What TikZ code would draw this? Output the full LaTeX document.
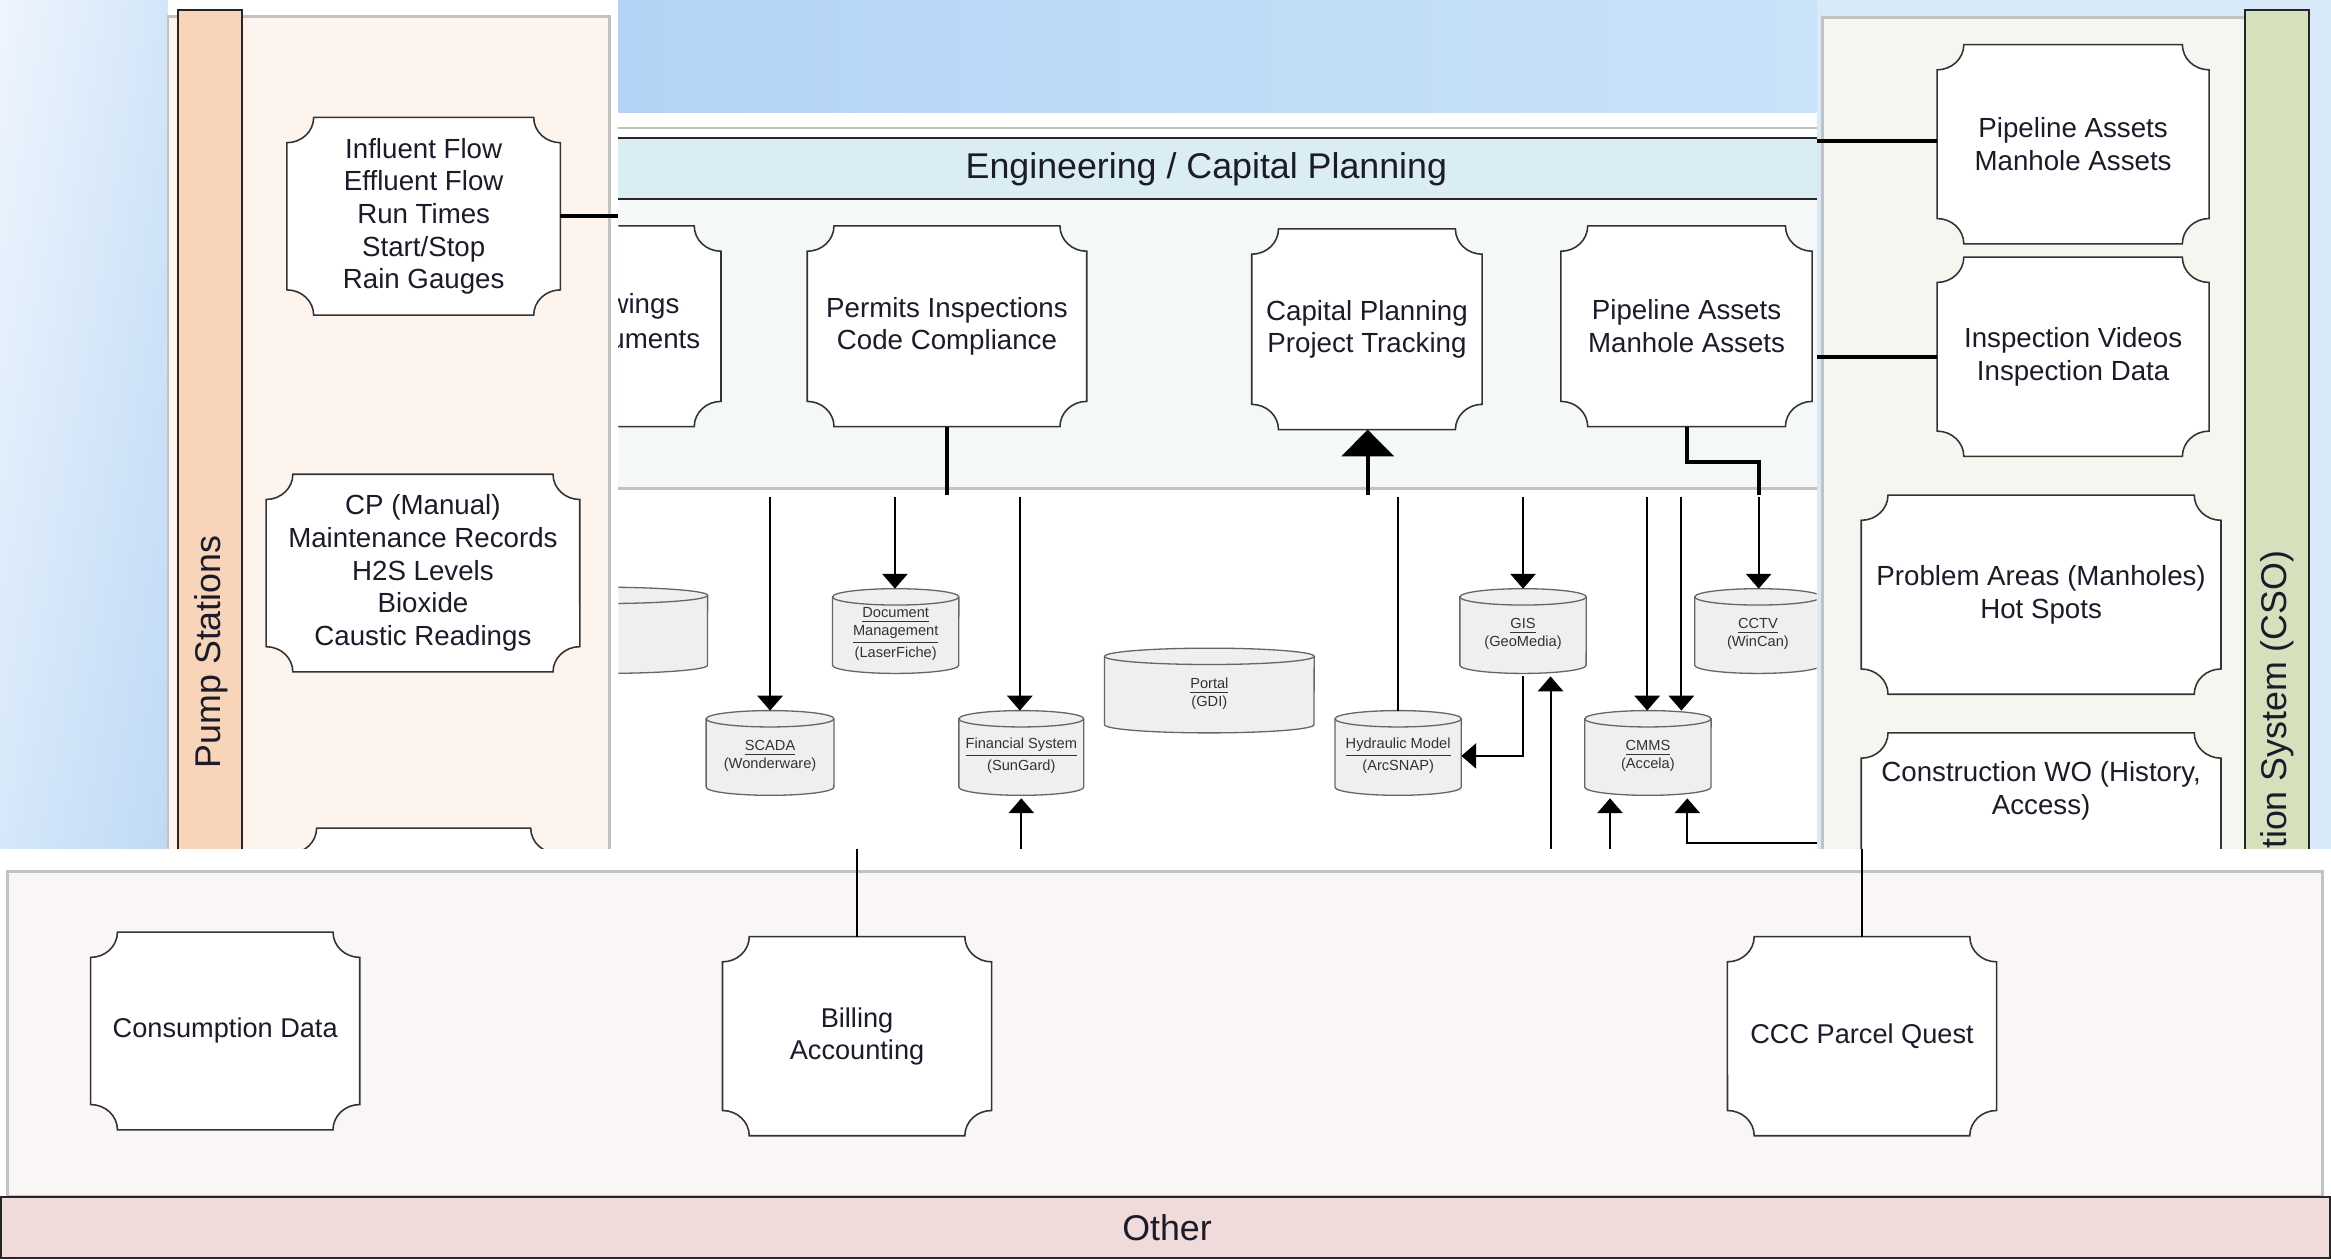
\documentclass[tikz,border=0pt]{standalone}
\usepackage{fontspec}
\setmainfont{Liberation Sans}
\usetikzlibrary{arrows.meta,shadings}

\definecolor{bgA}{HTML}{EEF5FD}
\definecolor{bgB}{HTML}{D3E6F9}
\definecolor{bgC}{HTML}{D6E8FA}
\definecolor{bgD}{HTML}{BFD9F5}
\definecolor{midA}{HTML}{B3D4F6}
\definecolor{midB}{HTML}{CAE2F8}
\definecolor{rightblue}{HTML}{D8EAF9}
\definecolor{pumpfill}{HTML}{FDF4EE}
\definecolor{pumpband}{HTML}{F8D5B9}
\definecolor{csofill}{HTML}{F4F7EF}
\definecolor{csoband}{HTML}{D5E0BC}
\definecolor{headfill}{HTML}{D9EDF3}
\definecolor{lanefill}{HTML}{F4F8F9}
\definecolor{botfill}{HTML}{FAF6F5}
\definecolor{otherfill}{HTML}{F1DBDA}
\definecolor{cylgray}{HTML}{EFEFEF}
\definecolor{panelgray}{HTML}{C2C2C2}
\definecolor{inkcol}{HTML}{1B1B2A}

% plaque: concave-cornered box, then a named text node over it
% #1 extra options, #2 name, #3 x1, #4 y1, #5 x2, #6 y2, #7 text
\newcommand\plaque[7][]{%
  \draw[plaquebox,#1] ({#3+18},#4) -- ({#5-18},#4)
    arc[start angle=180,end angle=270,x radius=0.36cm,y radius=0.34cm]
    -- (#5,{#6-17})
    arc[start angle=90,end angle=180,x radius=0.36cm,y radius=0.34cm]
    -- ({#3+18},#6)
    arc[start angle=0,end angle=90,x radius=0.36cm,y radius=0.34cm]
    -- (#3,{#4+17})
    arc[start angle=270,end angle=360,x radius=0.36cm,y radius=0.34cm]
    -- cycle;
  \node[plaquetext,minimum width={(#5-#3)*0.02cm},minimum height={(#6-#4)*0.02cm}]
    (#2) at ({(#3+#5)/2},{(#4+#6)/2}) {#7};
}

% database cylinder: #1 name, #2 x1, #3 y1, #4 x2, #5 y2, #6 text
\newcommand\dbcyl[6]{%
  \filldraw[cylbox] (#2,{#3+5.5}) -- (#2,{#5-5.5})
    arc[start angle=180,end angle=360,x radius={(#4-#2)*0.01cm},y radius=0.11cm]
    -- (#4,{#3+5.5})
    arc[start angle=0,end angle=180,x radius={(#4-#2)*0.01cm},y radius=0.11cm]
    -- cycle;
  \draw[cylbox,fill=none] (#2,{#3+5.5})
    arc[start angle=180,end angle=360,x radius={(#4-#2)*0.01cm},y radius=0.11cm];
  \node[cyltext,minimum width={(#4-#2)*0.02cm},minimum height={(#5-#3)*0.02cm}]
    (#1) at ({(#2+#4)/2},{(#3+#5)/2+2}) {#6};
}

\begin{document}
\begin{tikzpicture}[x=0.02cm,y=-0.02cm,
  plaquebox/.style={draw=black!80,line width=0.6pt,fill=white},
  plaquetext/.style={inner sep=0pt,outer sep=0pt,align=center,text=inkcol,
    font=\fontsize{10.6}{12.5}\selectfont},
  cylbox/.style={draw=black!60,line width=0.5pt,fill=cylgray},
  cyltext/.style={inner sep=0pt,outer sep=0pt,align=center,text=black!80,
    font=\fontsize{5.6}{6.9}\selectfont},
  lanetitle/.style={inner sep=0pt,text=inkcol,font=\fontsize{13.7}{16}\selectfont},
  panel/.style={draw=panelgray,line width=1.1pt},
  band/.style={draw=black!85,line width=0.8pt},
  conn/.style={draw=black,line width=0.75pt},
  heavy/.style={draw=black,line width=1.5pt},
  arrowend/.style={-{Triangle[width=0.34cm,length=0.2cm]}},
  bigarrowend/.style={-{Triangle[width=0.7cm,length=0.36cm]}},
]
\useasboundingbox (0,0) rectangle (1568,847);

% ---------------- upper part ----------------
\begin{scope}
\clip (0,0) rectangle (1568,571);

% left backdrop
\shade[upper left=bgA,upper right=bgB,lower left=bgC,lower right=bgD]
  (0,0) rectangle (113,571);

% Pump Stations lane
\fill[white] (113,0) rectangle (416,571);
\draw[panel,fill=pumpfill] (113,11) rectangle (410,620);
\draw[band,fill=pumpband] (120,7) rectangle (163,620);
\node[lanetitle,rotate=90] (pstitle) at (142,438.5) {Pump Stations};

\plaque{ps1}{193}{79}{377}{212}{Influent Flow\\Effluent Flow\\Run Times\\Start/Stop\\Rain Gauges}
\plaque{ps2}{179}{319}{390}{452}{CP (Manual)\\Maintenance Records\\H2S Levels\\Bioxide\\Caustic Readings}
\plaque{ps3}{195}{557}{375}{690}{}

% Engineering / Capital Planning lane
\shade[left color=midA,right color=midB] (416,0) rectangle (1222,76);
\fill[white] (416,76) rectangle (1222,571);
\draw[black!25,line width=0.6pt] (416,86) -- (1222,86);
\fill[lanefill] (416,134) rectangle (1222,328);
\draw[panelgray,line width=1.1pt] (416,328.5) -- (1222,328.5);
\fill[headfill] (416,93) rectangle (1222,134);
\draw[black!85,line width=0.9pt] (416,93) -- (1222,93) (416,134) -- (1222,134);
\node[lanetitle] (eng) at (811.5,114) {Engineering / Capital Planning};

% Collection System lane
\fill[rightblue] (1222,0) rectangle (1568,571);
\draw[panel,fill=csofill] (1226,12) rectangle (1530,620);
\draw[band,fill=csoband] (1510,7) rectangle (1553,620);
\node[lanetitle,rotate=90,anchor=east] (csotitle) at (1532,370) {Collection System (CSO)};

\plaque{r1}{1303}{30}{1486}{164}{Pipeline Assets\\Manhole Assets}
\plaque{r2}{1303}{173}{1486}{307}{Inspection Videos\\Inspection Data}
\plaque{r3}{1252}{333}{1494}{467}{Problem Areas (Manholes)\\Hot Spots}
\plaque{r4box}{1252}{493}{1494}{640}{}
\node[plaquetext] (r4) at (1373,532) {Construction WO (History,\\Access)};

\begin{scope}
\clip (416,0) rectangle (1222,571);
\plaque{drw}{300}{152}{485}{287}{}
\node[plaquetext,anchor=east] (drw1) at (457,206) {Drawings};
\node[plaquetext,anchor=east] (drw2) at (471,228) {Documents};
\dbcyl{cylx}{335}{395}{476}{453}{}
\dbcyl{cctv}{1140}{396}{1225}{453}{\underline{CCTV}\\(WinCan)}
\end{scope}

\plaque{permits}{543}{152}{731}{287}{Permits Inspections\\Code Compliance}
\plaque{capp}{842}{154}{997}{289}{Capital Planning\\Project Tracking}
\plaque{pipe}{1050}{152}{1219}{287}{Pipeline Assets\\Manhole Assets}

% data stores
\dbcyl{docm}{560}{396}{645}{453}{\underline{Document}\\\underline{Management}\\(LaserFiche)}
\dbcyl{scada}{475}{478}{561}{535}{\underline{SCADA}\\(Wonderware)}
\dbcyl{fin}{645}{478}{729}{535}{\underline{Financial System}\\(SunGard)}
\dbcyl{portal}{743}{436}{884}{493}{\underline{Portal}\\(GDI)}
\dbcyl{hyd}{898}{478}{983}{535}{\underline{Hydraulic Model}\\(ArcSNAP)}
\dbcyl{gis}{982}{396}{1067}{453}{\underline{GIS}\\(GeoMedia)}
\dbcyl{cmms}{1066}{478}{1151}{535}{\underline{CMMS}\\(Accela)}

% connector ends on the lane edges
\coordinate (psedge) at (416,145.5);
\coordinate (pmedge) at (637,333);
\coordinate (cpedge) at (920,333);
\coordinate (pjog) at (1183,311);
\coordinate (pedge) at (1183,333);
\coordinate (aS) at (518,334);
\coordinate (aD) at (602,334);
\coordinate (aF) at (686,334);
\coordinate (aH) at (940.5,334);
\coordinate (aG) at (1024.5,334);
\coordinate (aC1) at (1108,334);
\coordinate (aC2) at (1131,334);
\coordinate (aV) at (1183,334);
\coordinate (uF) at (687,571);
\coordinate (uG) at (1043,571);
\coordinate (uC1) at (1083,571);
\coordinate (uC2) at (1222,567);
\coordinate (m1) at (1222,95);
\coordinate (m2) at (1222,240);

% connectors
\draw[heavy] (ps1.east) -- (psedge);
\draw[heavy] (permits.south) -- (pmedge);
\draw[heavy,bigarrowend] (cpedge) -- (cpedge |- capp.south);
\draw[heavy] (pipe.south) |- (pjog) -- (pedge);
\draw[heavy] (m1) -- (m1 -| r1.west);
\draw[heavy] (m2) -- (m2 -| r2.west);

\draw[conn,arrowend] (aS) -- (scada.north |- 0,478);
\draw[conn,arrowend] (aD) -- (aD |- 0,396);
\draw[conn,arrowend] (aF) -- (aF |- 0,478);
\draw[conn] (aH) -- (aH |- 0,478);
\draw[conn,arrowend] (aG) -- (aG |- 0,396);
\draw[conn,arrowend] (aC1) -- (aC1 |- 0,478);
\draw[conn,arrowend] (aC2) -- (aC2 |- 0,478);
\draw[conn,arrowend] (aV) -- (aV |- 0,396);
\draw[conn,arrowend] (gis.south) |- (hyd.east);
\draw[conn,arrowend] (uF) -- (uF |- fin.south);
\draw[conn,arrowend] (uG) -- (uG |- gis.south);
\draw[conn,arrowend] (uC1) -- (uC1 |- cmms.south);
\draw[conn,arrowend] (uC2) -| ([xshift=0.53cm]cmms.south);
\end{scope}

% ---------------- lower part ----------------
\fill[white] (0,571) rectangle (1568,847);
\draw[panel,fill=botfill] (5,586) rectangle (1562,805);
\draw[band,fill=otherfill] (0.5,805) rectangle (1567.5,846.5);
\node[lanetitle] (other) at (785,826) {Other};

\begin{scope}[plaquetext/.append style={font=\fontsize{10.4}{12.3}\selectfont}]
\plaque{cons}{61}{627}{242}{760}{Consumption Data}
\plaque{bill}{486}{630}{667}{764}{Billing\\Accounting}
\plaque{ccc}{1162}{630}{1343}{764}{CCC Parcel Quest}
\end{scope}

\coordinate (bB) at (576.5,571);
\coordinate (bC) at (1252.5,571);
\draw[conn,line width=1.1pt] (bB) -- (bill.north);
\draw[conn,line width=1.1pt] (bC) -- (ccc.north);

\end{tikzpicture}
\end{document}
